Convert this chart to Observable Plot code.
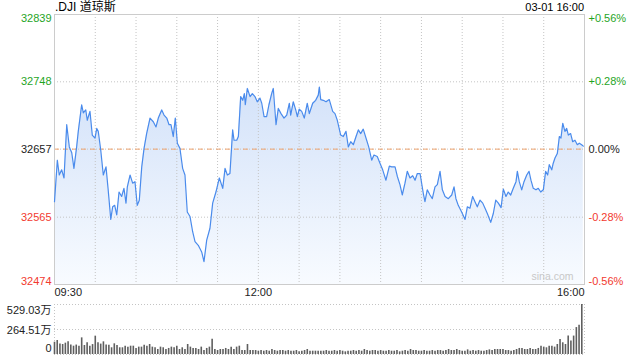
<!DOCTYPE html>
<html><head><meta charset="utf-8">
<script src="https://cdn.jsdelivr.net/npm/d3@7"></script>
<script src="https://cdn.jsdelivr.net/npm/@observablehq/plot@0.6"></script>
<style>
body{margin:0;background:#fff;}
#wrap{position:relative;width:640px;height:360px;overflow:hidden;font-family:"Liberation Sans",Arial,"Noto Sans CJK SC",sans-serif;}
#title{position:absolute;left:55px;top:0px;font-size:12px;color:#000;line-height:15px;font-family:"Liberation Sans","Noto Sans CJK SC",sans-serif;}
#date{position:absolute;right:56px;top:0px;font-size:11px;color:#000;line-height:15px;}
#main{position:absolute;left:0;top:0;}
#vol{position:absolute;left:0;top:300px;}
svg{font-family:"Liberation Sans",Arial,"Noto Sans CJK SC",sans-serif;}
</style></head>
<body>
<div id="wrap">
  <div id="main"></div>
  <div id="vol"></div>
  <div id="title">.DJI 道琼斯</div>
  <div id="date">03-01 16:00</div>
</div>
<script>
// minutes since 09:30
const priceMinutes = [0,2.1,3.5,5.3,7.0,9.0,10.9,12.7,14.3,16.3,17.5,20.0,21.2,23.0,24.1,26.1,27.8,29.8,31.1,32.2,34.0,35.9,37.9,39.4,41.4,42.8,44.3,45.8,47.5,49.4,
51.1,52.6,53.6,55.6,57.5,59.2,60.9,62.4,64.2,65.9,67.8,70.3,72.7,74.7,76.4,78.9,80.6,82.6,84.3,85.7,87.4,88.9,90.4,92.3,94.3,96.0,97.7,99.7,
101.7,103.4,105.8,108.3,110.0,112.0,114.4,116.4,118.8,121.3,123.8,125.5,127.2,129.1,131.1,132.1,134.1,135.3,137.0,138.5,139.7,140.4,141.9,143.9,145.6,147.5,149.2,
151.2,152.5,154.2,156.1,157.8,159.8,161.0,163.0,164.7,166.7,168.9,170.9,172.8,173.8,175.7,177.5,178.7,180.1,181.9,183.8,186.0,187.5,190.0,192.2,194.1,194.9,195.9,197.8,199.8,
202.2,204.7,206.4,208.1,210.6,212.5,214.5,216.2,218.0,219.9,221.9,223.6,225.3,227.2,229.2,231.2,233.4,235.1,237.5,239.5,241.5,243.9,246.4,248.1,
250.6,252.3,254.2,255.9,257.9,259.6,261.6,263.6,265.3,267.0,269.0,271.4,272.6,274.3,276.3,278.0,280.0,281.7,283.7,285.4,287.4,289.8,292.3,294.0,295.4,297.1,299.6,
302.1,303.8,305.7,307.7,309.4,311.1,313.1,315.1,316.8,318.5,321.0,322.9,324.7,326.6,328.6,330.3,332.2,333.9,335.7,337.6,339.6,340.6,342.0,343.8,345.5,347.5,349.2,
350.6,352.3,354.3,356.0,357.8,359.7,361.4,362.9,364.1,365.9,367.0,368.3,370.0,371.5,372.7,374.0,375.6,376.9,378.1,379.8,381.3,383.0,384.7,386.2,387.9,389.1];
const priceValues = [32586,32642,32622,32629,32618,32690,32660,32652,32631,32660,32681,32717,32706,32710,32696,32708,32676,32672,32685,32681,32656,32622,32633,32604,32562,32579,32581,32568,32599,32593,
32604,32584,32606,32622,32611,32613,32581,32588,32633,32658,32678,32699,32694,32687,32699,32710,32703,32699,32690,32690,32674,32699,32665,32658,32631,32622,32572,32566,
32545,32532,32527,32518,32505,32534,32550,32584,32599,32618,32604,32631,32622,32624,32683,32669,32669,32674,32728,32723,32732,32717,32739,32728,32732,32728,32721,
32726,32719,32701,32701,32717,32732,32739,32690,32712,32705,32699,32703,32719,32703,32721,32710,32701,32711,32708,32699,32719,32705,32719,32723,32730,32741,32724,32723,32721,
32724,32708,32705,32696,32676,32674,32681,32660,32667,32663,32674,32683,32678,32684,32672,32660,32642,32649,32647,32638,32629,32615,32634,32633,
32633,32620,32609,32595,32611,32627,32618,32621,32615,32624,32624,32597,32586,32602,32595,32590,32606,32609,32627,32602,32593,32590,32595,32606,32590,32581,32572,
32562,32579,32577,32593,32586,32579,32588,32584,32577,32570,32558,32570,32588,32584,32578,32603,32593,32599,32595,32604,32613,32627,32613,32602,32613,32622,32627,
32615,32604,32602,32604,32599,32602,32627,32622,32636,32629,32638,32645,32651,32674,32672,32692,32681,32685,32676,32678,32667,32669,32663,32665,32663,32661];

const prevClose = 32657;
const yTicks = [32474, 32565, 32657, 32748, 32839];
const yTickLabels = ["32474", "32565", "32657", "32748", "32839"];
const pctLabels = ["-0.56%", "-0.28%", "0.00%", "+0.28%", "+0.56%"];
const xTicks = [0, 150, 390];
const xTickLabels = ["09:30", "12:00", "16:00"];
const gridMinutes = [30, 60, 90, 120, 150, 180, 210, 240, 270, 300, 330, 360];

// volume (万), one bar every 2 minutes from 09:30
const volumes = [130,148,110,106,120,134,100,88,100,88,176,95,124,88,105,194,124,110,134,100,99,71,113,95,71,
71,88,78,88,88,64,78,78,99,88,106,78,71,53,78,71,53,64,78,71,88,53,71,53,106,
78,64,64,53,78,42,64,78,162,53,42,53,53,64,53,78,53,78,88,42,42,106,42,42,42,35,42,35,42,35,53,42,35,42,42,35,42,35,35,42,28,35,42,53,35,35,35,35,35,35,
42,35,35,42,35,42,35,28,35,35,42,35,42,35,53,42,35,42,42,35,42,35,35,42,35,35,42,28,35,42,35,53,42,42,35,35,42,35,35,42,35,42,42,35,42,53,42,42,53,42,
35,35,49,35,42,35,42,35,35,42,49,42,53,53,53,53,42,42,35,42,53,64,64,53,53,64,53,53,64,88,78,71,88,88,78,106,160,124,106,195,142,195,285,310,529.03];
const volTicks = [0, 264.51, 529.03];
const volTickLabels = ["0", "264.51万", "529.03万"];

const green = "#1fa51f", red = "#f23a2f", black = "#222";
const colorFor = v => v > prevClose ? green : v < prevClose ? red : black;

const price = priceMinutes.map((t, i) => ({t, v: priceValues[i]}));
const yLab = yTicks.map((y, i) => ({y, label: yTickLabels[i], pct: pctLabels[i], color: colorFor(y)}));
const xLab = xTicks.map((x, i) => ({x, label: xTickLabels[i]}));
const vol = volumes.map((v, i) => ({t: i * 2, v}));
const vLab = volTicks.map((y, i) => ({y, label: volTickLabels[i]}));

const gradDefs = () => {
  const defs = d3.create("svg:defs");
  const g = defs.append("linearGradient").attr("id", "areaGrad")
    .attr("x1", 0).attr("y1", 0).attr("x2", 0).attr("y2", 1);
  g.append("stop").attr("offset", "0%").attr("stop-color", "#d3e2f9");
  g.append("stop").attr("offset", "100%").attr("stop-color", "#f8fbff");
  return defs.node();
};

const yDomain = [yTicks[0], yTicks[yTicks.length - 1]];
const textSel = (arr, idx) => arr.filter((d, i) => idx.includes(i));

const main = Plot.plot({
  width: 640, height: 296,
  marginLeft: 54, marginRight: 56, marginTop: 14, marginBottom: 12,
  x: {domain: [0, 390], axis: null},
  y: {domain: yDomain, axis: null},
  style: {fontFamily: '"Liberation Sans", Arial, sans-serif', fontSize: "11px"},
  marks: [
    gradDefs,
    Plot.areaY(price, {x: "t", y1: yDomain[0], y2: "v", fill: "url(#areaGrad)"}),
    Plot.ruleX(gridMinutes, {stroke: "#c4c4c4", strokeDasharray: "1,2"}),
    Plot.ruleY([yTicks[1], yTicks[2], yTicks[3]], {stroke: "#c4c4c4", strokeDasharray: "1,2"}),
    Plot.ruleY([prevClose], {stroke: "#f0a46e", strokeDasharray: "5,4", strokeWidth: 1}),
    Plot.frame({stroke: "#cccccc"}),
    Plot.line(price, {x: "t", y: "v", stroke: "#4a8bec", strokeWidth: 1.2}),
    // left labels
    Plot.text(textSel(yLab, [4]), {y: "y", text: "label", frameAnchor: "left", dx: -3, textAnchor: "end", lineAnchor: "top", fill: "color"}),
    Plot.text(textSel(yLab, [1, 2, 3]), {y: "y", text: "label", frameAnchor: "left", dx: -3, textAnchor: "end", fill: "color"}),
    Plot.text(textSel(yLab, [0]), {y: "y", text: "label", frameAnchor: "left", dx: -3, textAnchor: "end", lineAnchor: "bottom", fill: "color"}),
    // right labels
    Plot.text(textSel(yLab, [4]), {y: "y", text: "pct", frameAnchor: "right", dx: 4, textAnchor: "start", lineAnchor: "top", fill: "color"}),
    Plot.text(textSel(yLab, [1, 2, 3]), {y: "y", text: "pct", frameAnchor: "right", dx: 4, textAnchor: "start", fill: "color"}),
    Plot.text(textSel(yLab, [0]), {y: "y", text: "pct", frameAnchor: "right", dx: 4, textAnchor: "start", lineAnchor: "bottom", fill: "color"}),
    // x labels
    Plot.text(textSel(xLab, [0]), {x: "x", text: "label", frameAnchor: "bottom", dy: 11, textAnchor: "start", fill: black}),
    Plot.text(textSel(xLab, [1]), {x: "x", text: "label", frameAnchor: "bottom", dy: 11, textAnchor: "middle", fill: black}),
    Plot.text(textSel(xLab, [2]), {x: "x", text: "label", frameAnchor: "bottom", dy: 11, textAnchor: "end", fill: black}),
    Plot.text(["sina.com"], {frameAnchor: "bottom-right", dx: -11, dy: -5, textAnchor: "end", fill: "#c8c8c8", fontSize: 10.5})
  ]
});
document.getElementById("main").appendChild(main);

const volPlot = Plot.plot({
  width: 640, height: 58,
  marginLeft: 54, marginRight: 56, marginTop: 4, marginBottom: 4,
  x: {domain: [0, 390], axis: null},
  y: {domain: [0, volTicks[2]], axis: null},
  style: {fontFamily: '"Liberation Sans", Arial, "Noto Sans CJK SC", sans-serif', fontSize: "11px"},
  marks: [
    Plot.ruleY(volTicks, {stroke: "#c4c4c4", strokeDasharray: "1,2"}),
    Plot.ruleX([0, 390], {stroke: "#c4c4c4", strokeDasharray: "1,2"}),
    Plot.ruleX(vol, {x: "t", y1: 0, y2: "v", stroke: "#5f5f5f", strokeWidth: 1.6}),
    Plot.text(textSel(vLab, [2]), {y: "y", text: "label", frameAnchor: "left", dx: -3, textAnchor: "end", lineAnchor: "top", dy: 2, fill: black}),
    Plot.text(textSel(vLab, [1]), {y: "y", text: "label", frameAnchor: "left", dx: -3, textAnchor: "end", dy: 1, fill: black}),
    Plot.text(textSel(vLab, [0]), {y: "y", text: "label", frameAnchor: "left", dx: -3, textAnchor: "end", lineAnchor: "bottom", dy: -3, fill: black})
  ]
});
document.getElementById("vol").appendChild(volPlot);
</script>
</body></html>
